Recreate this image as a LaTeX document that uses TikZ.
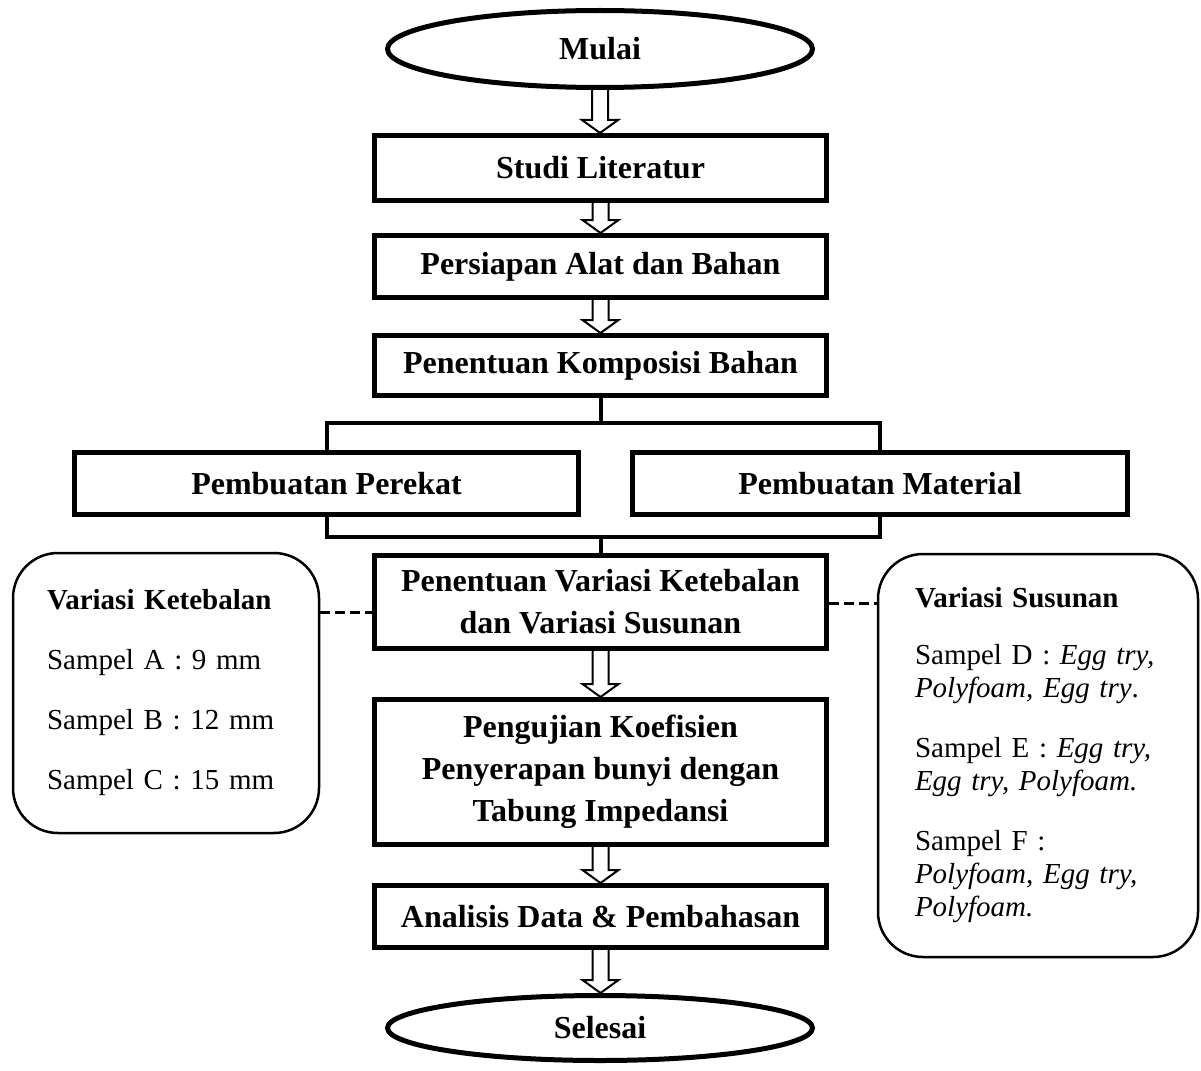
\documentclass[tikz,border=0pt]{standalone}
\usepackage{fontspec}
\setmainfont{Liberation Serif}
\usetikzlibrary{shapes.geometric,calc}

\tikzset{
  kotak/.style={draw, line width=5pt, minimum width=452pt, align=center, inner sep=0pt,
    font=\fontsize{32}{42}\selectfont\bfseries},
  ujung/.style={draw, ellipse, line width=5pt, minimum width=425pt, inner sep=0pt,
    font=\fontsize{32}{40}\selectfont\bfseries},
  catatan/.style={draw, line width=2.5pt, rounded corners=45pt, align=left, inner sep=0pt,
    font=\fontsize{29}{33}\selectfont},
  garis/.style={line width=4pt},
  putus/.style={line width=3pt, dash pattern=on 10pt off 5pt},
  panah/.style={line width=2pt, line join=miter}
}

\newcommand{\panahturun}[2]{%
  \draw[panah] let \p1=(#1.south), \p2=(#2.north) in
    (\x1-8pt,\y1) -- (\x1-8pt,\y2+13pt) -- (\x1-18pt,\y2+13pt) -- (\x1,\y2)
    -- (\x1+18pt,\y2+13pt) -- (\x1+8pt,\y2+13pt) -- (\x1+8pt,\y1);}

\begin{document}
\begin{tikzpicture}[x=1pt, y=-1pt]
\useasboundingbox (0,0) rectangle (1201,1070);

\node[ujung, minimum height=77pt] (mulai) at (600,49) {Mulai};
\node[kotak, minimum height=65pt] (studi) at (600.5,168) {Studi Literatur};
\node[kotak, minimum height=62pt] (persiapan) at (600.5,266.5) {Persiapan Alat dan Bahan};
\node[kotak, minimum height=60pt] (komposisi) at (600.5,365.5) {Penentuan Komposisi Bahan};
\node[kotak, minimum width=504pt, minimum height=62pt] (perekat) at (326.5,483.5) {Pembuatan Perekat};
\node[kotak, minimum width=495pt, minimum height=62pt] (material) at (880,483.5) {Pembuatan Material};
\node[kotak, minimum height=93pt] (variasi) at (600.5,602) {Penentuan Variasi Ketebalan\\dan Variasi Susunan};
\node[kotak, minimum height=145pt] (pengujian) at (600.5,772) {Pengujian Koefisien\\Penyerapan bunyi dengan\\Tabung Impedansi};
\node[kotak, minimum height=62pt] (analisis) at (600.5,916.5) {Analisis Data \& Pembahasan};
\node[ujung, minimum height=65pt] (selesai) at (600,1028) {Selesai};

\node[catatan, minimum width=306pt, minimum height=280pt, text width=238pt] (kiri) at (166,693)
  {\textbf{Variasi Ketebalan}\\[27pt] Sampel A : 9 mm\\[27pt] Sampel B : 12 mm\\[27pt] Sampel C : 15 mm};
\node[catatan, minimum width=320pt, minimum height=403pt, text width=246pt] (kanan) at (1038,755.5)
  {\textbf{Variasi Susunan}\\[24pt] Sampel D : \textit{Egg try,}\\ \textit{Polyfoam, Egg try}.\\[27pt]
   Sampel E : \textit{Egg try,}\\ \textit{Egg try, Polyfoam.}\\[27pt]
   Sampel F :\\ \textit{Polyfoam, Egg try,}\\ \textit{Polyfoam.}};

\panahturun{mulai}{studi}
\panahturun{studi}{persiapan}
\panahturun{persiapan}{komposisi}
\draw[garis] (komposisi.south) -- (600.5,423) coordinate (cabang);
\draw[garis] (perekat.north) |- (cabang) -| (material.north);
\draw[garis] (perekat.south) |- (600.5,537) coordinate (gabung) -| (material.south);
\draw[garis] (gabung) -- (variasi.north);
\panahturun{variasi}{pengujian}
\panahturun{pengujian}{analisis}
\panahturun{analisis}{selesai}
\draw[putus] (kiri.east |- 0,612) -- (variasi.west |- 0,612);
\draw[putus] (variasi.east |- 0,603) -- (kanan.west |- 0,603);
\end{tikzpicture}
\end{document}
